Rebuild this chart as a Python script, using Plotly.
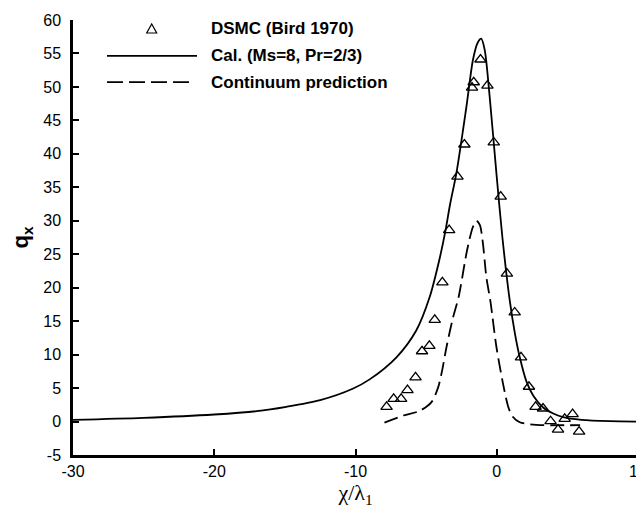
import plotly.graph_objects as go

# DSMC data points (Bird 1970)
dsmc_x = [-7.8, -7.3, -6.77, -6.32, -5.75, -5.29, -4.77, -4.39, -3.85, -3.37, -2.78, -2.29,
          -1.75, -1.63, -1.15, -0.66, -0.21, 0.28, 0.72, 1.27, 1.72, 2.28, 2.75, 3.28,
          3.81, 4.34, 4.81, 5.37, 5.83]
dsmc_y = [2.2, 3.4, 3.4, 4.7, 6.6, 10.5, 11.3, 15.2, 20.8, 28.6, 36.6, 41.4,
          49.9, 50.7, 54.1, 50.2, 41.7, 33.6, 22.1, 16.3, 9.6, 5.2, 2.2, 1.95,
          0.05, -1.2, 0.4, 1.1, -1.5]

# calculation (Ms=8, Pr=2/3)
cal_x = [-30, -25, -20, -17, -14.9, -12.5, -10.2, -9.0, -7.1, -5.7, -4.75, -4.05, -3.65,
         -3.3, -2.85, -2.15, -1.68, -1.35, -1.1, -0.85, -0.5, -0.02, 0.4, 0.92, 1.3,
         1.63, 2.1, 2.6, 3.28, 4.0, 4.7, 6.0, 8.0, 10.0]
cal_y = [0.25, 0.55, 1.05, 1.55, 2.2, 3.2, 4.9, 6.3, 9.6, 13.6, 18.6, 24.3, 28.3,
         32.5, 37.2, 47.0, 54.1, 56.6, 57.2, 55.5, 48.5, 37.0, 27.5, 18.1, 13.0,
         9.6, 6.0, 3.8, 2.1, 1.2, 0.65, 0.25, 0.05, 0.0]

# continuum prediction
cont_x = [-7.95, -6.6, -5.45, -4.62, -4.15, -3.85, -3.56, -3.1, -2.7, -2.1, -1.7, -1.44,
          -1.2, -1.0, -0.73, -0.45, -0.02, 0.45, 0.8, 1.1, 1.63, 2.8, 4.5, 5.9]
cont_y = [-0.15, 0.9, 1.6, 2.9, 5.1, 7.8, 11.1, 15.5, 18.6, 25.6, 29.0, 30.0,
          29.4, 27.0, 21.5, 18.0, 11.1, 5.6, 2.3, 0.8, -0.1, -0.5, -0.55, -0.55]

x_ticks = [-30, -20, -10, 0, 10]
y_ticks = list(range(-5, 61, 5))
legend_labels = ["DSMC (Bird 1970)", "Cal. (Ms=8, Pr=2/3)", "Continuum prediction"]

# the page body has an 8px margin, so the figure is a bit smaller than the window
OFF = 8
W, H = 636, 500
ML, MR, MT, MB = 65, 6, 11.5, 53.3
pw, ph = W - ML - MR, H - MT - MB


def px2paper(px, py):
    # window pixels -> paper coords
    return (px - OFF - ML) / pw, (H - MB - (py - OFF)) / ph


fig = go.Figure()

fig.add_trace(go.Scatter(x=cal_x, y=cal_y, mode="lines",
                         line=dict(color="black", width=1.8, shape="spline", smoothing=0.8),
                         showlegend=False))
fig.add_trace(go.Scatter(x=cont_x, y=cont_y, mode="lines",
                         line=dict(color="black", width=1.8, dash="14px,6px", shape="spline", smoothing=0.8),
                         showlegend=False))
fig.add_trace(go.Scatter(x=dsmc_x, y=dsmc_y, mode="markers",
                         marker=dict(symbol="triangle-up-open", size=10, color="black", line=dict(width=1.3)),
                         showlegend=False))

# hand-made legend (long line keys like the original)
shapes = []
annotations = []
rows_y = [28.5, 55.3, 81.7]
x0, y0 = px2paper(107, rows_y[1])
x1, _ = px2paper(197, rows_y[1])
shapes.append(dict(type="line", xref="paper", yref="paper", x0=x0, x1=x1, y0=y0, y1=y0,
                   line=dict(color="black", width=1.8)))
x0, y0 = px2paper(107, rows_y[2])
x1, _ = px2paper(192, rows_y[2])
shapes.append(dict(type="line", xref="paper", yref="paper", x0=x0, x1=x1, y0=y0, y1=y0,
                   line=dict(color="black", width=1.8, dash="16px,6px")))
# triangle key
ax, ay = px2paper(146.7, rows_y[0] + 4)
bx, by = px2paper(156.7, rows_y[0] + 4)
cx, cy = px2paper(151.7, rows_y[0] - 5)
shapes.append(dict(type="path", xref="paper", yref="paper",
                   path=f"M {ax} {ay} L {bx} {by} L {cx} {cy} Z",
                   line=dict(color="black", width=1.2)))
for lab, ry in zip(legend_labels, rows_y):
    tx, ty = px2paper(209, ry)
    annotations.append(dict(text=f"<b>{lab}</b>", xref="paper", yref="paper", x=tx, y=ty,
                            xanchor="left", yanchor="middle", showarrow=False,
                            font=dict(family="Liberation Sans", size=17, color="black")))

fig.update_layout(
    width=W, height=H,
    margin=dict(l=ML, r=MR, t=MT, b=MB),
    paper_bgcolor="white", plot_bgcolor="white",
    shapes=shapes, annotations=annotations,
    font=dict(family="Liberation Sans", size=16, color="black"),
)

fig.update_xaxes(
    range=[-30, 10.0001], tickvals=x_ticks, ticktext=[str(v) for v in x_ticks],
    showline=True, linecolor="black", linewidth=2.5, mirror=False,
    ticks="inside", ticklen=6, tickwidth=2, tickcolor="black",
    showgrid=False, zeroline=False, automargin=False, ticklabeloverflow="allow",
    title=dict(text="χ/λ<sub>1</sub>", font=dict(family="Liberation Serif", size=22), standoff=4),
)
fig.update_yaxes(
    range=[-5, 60], tickvals=y_ticks, ticktext=[str(v) for v in y_ticks],
    showline=True, linecolor="black", linewidth=2.5, mirror=False,
    ticks="inside", ticklen=6, tickwidth=2, tickcolor="black",
    showgrid=False, zeroline=False, ticklabelstandoff=6, automargin=False,
    title=dict(text="<b>q<sub>x</sub></b>", font=dict(family="Liberation Sans", size=22), standoff=10),
)

fig.write_html("out.html")
